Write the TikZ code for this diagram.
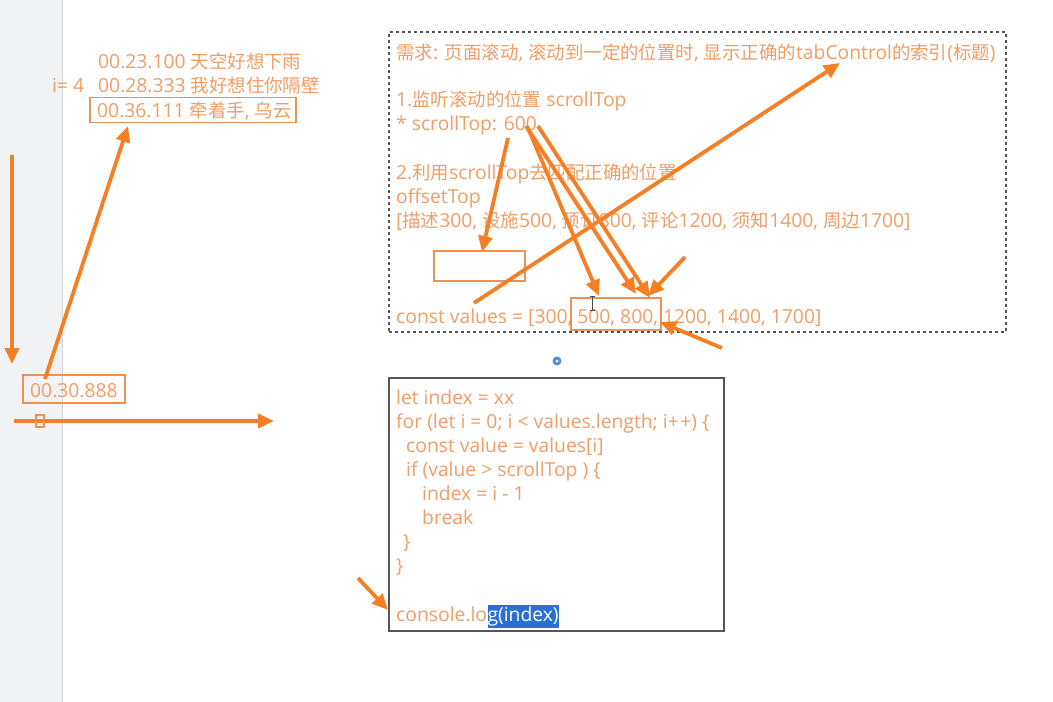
\documentclass[tikz,border=0pt]{standalone}
\usepackage{fontspec}
\setmainfont{Open Sans}
\newfontfamily\cjkfont[Scale=0.955]{Noto Sans CJK SC}
\newcommand{\cjk}[1]{{\cjkfont #1}}
\usetikzlibrary{arrows.meta}
\definecolor{textc}{HTML}{F09D66}
\definecolor{arrowc}{HTML}{F57F24}
\definecolor{boxc}{HTML}{EE9150}
\definecolor{framec}{HTML}{555555}
\definecolor{stripc}{HTML}{F2F3F5}
\definecolor{hlc}{HTML}{2A6FD6}
\tikzset{
  txt/.style={anchor=base west, inner sep=0pt, text=textc, font=\fontsize{19.3}{22}\selectfont},
  obox/.style={draw=boxc, line width=1.5pt, inner sep=0pt},
  arr/.style={draw=arrowc, line width=3.8pt, -{Triangle[length=16pt,width=14pt]}},
}
\begin{document}
\begin{tikzpicture}[x=1pt,y=-1pt]
\useasboundingbox (0,0) rectangle (1053,702);
\fill[white] (0,0) rectangle (1053,702);
\fill[stripc] (0,0) rectangle (62,702);
\draw[gray!35, line width=1pt] (62,0) -- (62,702);

% lyrics
\node[txt] (l1) at (98,68) {00.23.100 \cjk{天空好想下雨}};
\node[txt] (li) at (52,92) {i= 4};
\node[txt] (l2) at (98,92) {00.28.333 \cjk{我好想住你隔壁}};
\node[obox, minimum width=206pt, minimum height=25pt] (l3box) at (193,110) {};
\node[txt] (l3) at (97,117) {00.36.111 \cjk{牵着手}, \cjk{乌云}};

% time box
\node[obox, minimum width=102pt, minimum height=28pt] (tbox) at (74,389) {};
\node[txt] (t) at (30,397) {00.30.888};

% left arrows
\coordinate (vd1) at (12,155);
\coordinate (vd2) at (12,364);
\draw[arr] (vd1) -- (vd2);
\coordinate (ta) at (45,379);
\coordinate (tb) at (128,126);
\draw[arr] (ta) -- (tb);
\coordinate (h1) at (14,421);
\coordinate (h2) at (274,421);
\draw[arr] (h1) -- (h2);
\node[obox, minimum width=8pt, minimum height=12pt] (sq) at (40,421) {};

% dashed requirement box
\node[draw=framec, line width=1.2pt, dash pattern=on 3pt off 3pt, minimum width=617pt, minimum height=300pt, inner sep=0pt] (req) at (697.5,182) {};
\node[txt] (r1) at (396,59) {\cjk{需求}: \cjk{页面滚动}, \cjk{滚动到一定的位置时}, \cjk{显示正确的}tabControl\cjk{的索引}(\cjk{标题})};
\node[txt] (r2) at (396,106) {1.\cjk{监听滚动的位置} scrollTop};
\node[txt] (r3) at (396,130) {* scrollTop: 600};
\node[txt] (r4) at (396,179) {2.\cjk{利用}scrollTop\cjk{去匹配正确的位置}};
\node[txt] (r5) at (396,203) {offsetTop};
\node[txt] (r6) at (396,227) {[\cjk{描述}300, \cjk{设施}500, \cjk{预订}800, \cjk{评论}1200, \cjk{须知}1400, \cjk{周边}1700]};
\node[obox, minimum width=91pt, minimum height=30pt] (ebox) at (479.5,266) {};
\node[txt] (r7) at (396,323) {const values = [300, 500, 800, 1200, 1400, 1700]};
\node[obox, minimum width=90pt, minimum height=32pt] (vbox) at (616,314) {};

% arrows in requirement box
\coordinate (a1s) at (508,138);
\coordinate (a1e) at (482,252);
\draw[arr] (a1s) -- (a1e);
\coordinate (a2s) at (474,303);
\coordinate (a2e) at (840,63);
\draw[arr] (a2s) -- (a2e);
\coordinate (a3s) at (528,128);
\coordinate (a3e) at (599,296);
\draw[arr] (a3s) -- (a3e);
\coordinate (a4s) at (526,126);
\coordinate (a4e) at (636,294);
\draw[arr] (a4s) -- (a4e);
\coordinate (a5s) at (538,126);
\coordinate (a5e) at (650,298);
\draw[arr] (a5s) -- (a5e);
\coordinate (a6s) at (685,257);
\coordinate (a6e) at (648,296);
\draw[arr] (a6s) -- (a6e);
\coordinate (a7s) at (722,348);
\coordinate (a7e) at (660,322);
\draw[arr] (a7s) -- (a7e);

% text cursor
\draw[black!70, line width=0.8pt] (592,296) -- (592,310) (589.5,296) -- (594.5,296) (589.5,310) -- (594.5,310);

% small icon
\node[circle, fill=hlc!80, minimum size=9pt, inner sep=0pt] (icon) at (557,361) {};
\node[circle, fill=white, minimum size=3pt, inner sep=0pt] (icondot) at (557,361) {};

% code box
\node[draw=framec, line width=1.2pt, minimum width=335pt, minimum height=253pt, inner sep=0pt] (code) at (556.5,504.5) {};
\node[txt] (c1) at (396,404) {let index = xx};
\node[txt] (c2) at (396,428) {for (let i = 0; i < values.length; i+\kern1.5pt+) \{};
\node[txt] (c3) at (406,452) {const value = values[i]};
\node[txt] (c4) at (406,476) {if (value > scrollTop ) \{};
\node[txt] (c5) at (422,500) {index = i - 1};
\node[txt] (c6) at (422,524) {break};
\node[txt] (c7) at (403,548) {\}};
\node[txt] (c8) at (396,572) {\}};
\node[txt] (c9) at (396,621) {console.lo};
\node[txt, anchor=base west, fill=hlc, text=white, inner xsep=0pt, inner ysep=2pt, text height=14pt, text depth=5pt] (c10) at (c9.base east) {g(index)};

\coordinate (cs) at (358,578);
\coordinate (ce) at (388,610);
\draw[arr] (cs) -- (ce);
\end{tikzpicture}
\end{document}
